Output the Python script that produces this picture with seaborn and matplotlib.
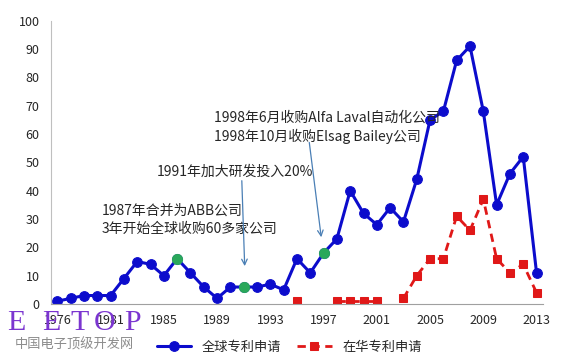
import numpy as np
import pandas as pd
import seaborn as sns
import matplotlib
import matplotlib.pyplot as plt

matplotlib.use("Agg")

# category axis (1977 is not in the source table)
years = [1976, 1978, 1979, 1980, 1981, 1982, 1983, 1984, 1985, 1986,
         1987, 1988, 1989, 1990, 1991, 1992, 1993, 1994, 1995, 1996,
         1997, 1998, 1999, 2000, 2001, 2002, 2003, 2004, 2005, 2006,
         2007, 2008, 2009, 2010, 2011, 2012, 2013]
global_apps = [1, 2, 3, 3, 3, 9, 15, 14, 10, 16,
               11, 6, 2, 6, 6, 6, 7, 5, 16, 11,
               18, 23, 40, 32, 28, 34, 29, 44, 65, 68,
               86, 91, 68, 35, 46, 52, 11]
china_apps = [np.nan] * 18 + [1, np.nan, np.nan, 1, 1, 1, 1, np.nan, 2, 10,
                              16, 16, 31, 26, 37, 16, 11, 14, 4]
highlight_idx = [9, 14, 20]
shown_years = [1976, 1981, 1985, 1989, 1993, 1997, 2001, 2005, 2009, 2013]

BLUE = "#0c0ccc"
RED = "#e01818"
GREEN = "#2aa85a"
ARROW = "#4a7fb5"
TXT = "#262626"

sns.set_style("white")
plt.rcParams["font.family"] = ["Noto Sans CJK SC", "DejaVu Sans"]

df = pd.DataFrame({"pos": range(len(years)), "year": years,
                   "global": global_apps, "china": china_apps})

fig, ax = plt.subplots(figsize=(5.73, 3.56), dpi=100)
fig.subplots_adjust(left=0.0885, right=0.948, bottom=0.146, top=0.942)

sns.lineplot(data=df, x="pos", y="global", ax=ax, color=BLUE, linewidth=2.2,
             marker="o", markersize=7, markeredgecolor=BLUE,
             markerfacecolor=BLUE, label="全球专利申请")

# red series: break the line where a year has no value
df["seg"] = df["china"].isna().cumsum()
red = df.dropna(subset=["china"])
first = True
for _, part in red.groupby("seg"):
    sns.lineplot(data=part, x="pos", y="china", ax=ax, color=RED,
                 linewidth=2.0, linestyle=(0, (3, 2)), marker="s",
                 markersize=5.5, markeredgecolor=RED, markerfacecolor=RED,
                 label="在华专利申请" if first else None)
    first = False

hl = df.iloc[highlight_idx]
sns.scatterplot(data=hl, x="pos", y="global", ax=ax, color=GREEN, s=55,
                edgecolor=GREEN, zorder=5, legend=False)

ax.set_xlim(-0.5, 36.5)
ax.set_ylim(0, 100)
ax.set_yticks(range(0, 101, 10))
ticks = [years.index(y) for y in shown_years]
ax.set_xticks(ticks)
ax.set_xticklabels([str(y) for y in shown_years])
ax.set_xlabel("")
ax.set_ylabel("")
ax.tick_params(axis="both", length=0, labelsize=9, colors=TXT)
ax.tick_params(axis="x", pad=7)
ax.tick_params(axis="y", pad=8)
for s in ["top", "right"]:
    ax.spines[s].set_visible(False)
ax.spines["left"].set_color("#bfbfbf")
ax.spines["bottom"].set_color("#a0a0a0")
ax.spines["left"].set_linewidth(0.8)
ax.spines["bottom"].set_linewidth(0.8)

# annotations
ax.text(3.36, 29.9, "1987年合并为ABB公司\n3年开始全球收购60多家公司",
        fontsize=10, color=TXT, va="center", ha="left", linespacing=1.35)
ax.text(7.5, 46.6, "1991年加大研发投入20%", fontsize=10, color=TXT,
        va="center", ha="left")
ax.text(11.8, 62.4,
        "1998年6月收购Alfa Laval自动化公司\n1998年10月收购Elsag Bailey公司",
        fontsize=10, color=TXT, va="center", ha="left", linespacing=1.35)
ax.annotate("", xy=(14.08, 12.4), xytext=(13.85, 44.5),
            arrowprops=dict(arrowstyle="->", color=ARROW, lw=0.9))
ax.annotate("", xy=(19.85, 22.6), xytext=(18.9, 58.0),
            arrowprops=dict(arrowstyle="->", color=ARROW, lw=0.9))

ax.get_legend().remove()
h, l = ax.get_legend_handles_labels()
fig.legend(h, l, loc="center", bbox_to_anchor=(0.505, 0.025), ncol=2,
           frameon=False, fontsize=9.5, handlelength=2.6, columnspacing=1.2,
           labelcolor=TXT)

# watermark
for ch, px in zip("EETOP", [7, 42, 70, 94, 124]):
    fig.text(px / 573, 0.073, ch, fontsize=21.5, color="#7b35d0",
             family="Liberation Serif", va="baseline", ha="left")
fig.text(0.025, 0.03, "中国电子顶级开发网", fontsize=9.5, color="#8c8c8c",
         va="center", ha="left")

fig.savefig("out.png", dpi=100)
